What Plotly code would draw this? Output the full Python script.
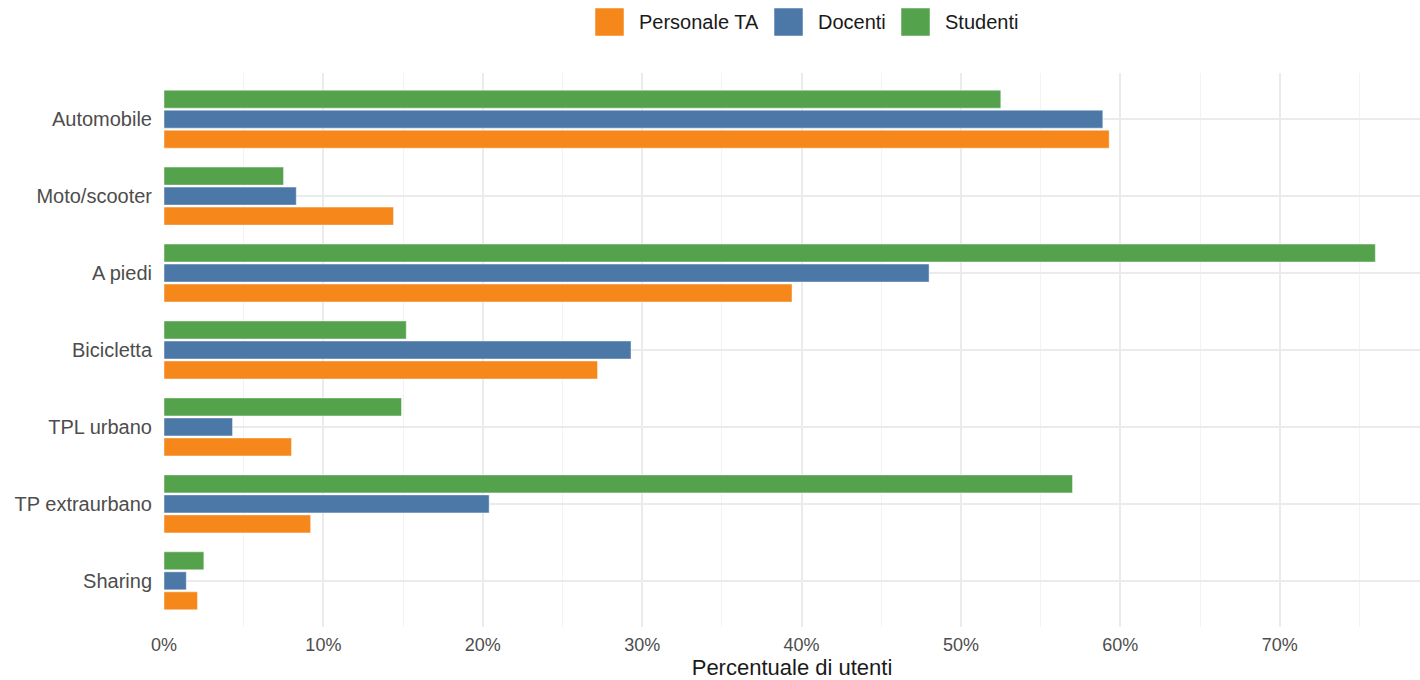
import plotly.graph_objects as go

categories = ["Automobile", "Moto/scooter", "A piedi", "Bicicletta", "TPL urbano", "TP extraurbano", "Sharing"]
series_names = ["Personale TA", "Docenti", "Studenti"]
personale_ta = [0.593, 0.144, 0.394, 0.272, 0.080, 0.092, 0.021]
docenti = [0.589, 0.083, 0.480, 0.293, 0.043, 0.204, 0.014]
studenti = [0.525, 0.075, 0.760, 0.152, 0.149, 0.570, 0.025]
x_tick_vals = [0, 0.1, 0.2, 0.3, 0.4, 0.5, 0.6, 0.7]
x_tick_text = ["0%", "10%", "20%", "30%", "40%", "50%", "60%", "70%"]

colors = ["#F5871B", "#4C78A8", "#55A24C"]
values = [personale_ta, docenti, studenti]

W, H = 1420, 680
ML, MR, MT, MB = 164, 0, 73, 53
PW, PH = W - ML - MR, H - MT - MB

def px_x(p):
    return (p - ML) / PW

def px_y(p):
    return (H - MB - p) / PH

fig = go.Figure()
for name, vals, col in zip(series_names, values, colors):
    fig.add_trace(go.Bar(
        y=categories, x=vals, name=name, orientation="h",
        marker=dict(color=col, line=dict(color="rgba(255,255,255,0.45)", width=1)),
        showlegend=False,
    ))

# manual legend (ggplot-style large keys)
legend_key_x = [595, 774, 901]
legend_text_x = [637, 816, 943]
for name, col, kx, tx in zip(series_names, colors, legend_key_x, legend_text_x):
    fig.add_shape(type="rect", xref="paper", yref="paper",
                  x0=px_x(kx), x1=px_x(kx + 29), y0=px_y(36), y1=px_y(8),
                  fillcolor=col, line=dict(color="rgba(255,255,255,0.5)", width=1))
    fig.add_annotation(xref="paper", yref="paper", x=px_x(tx), y=px_y(22),
                       xanchor="left", yanchor="middle", text=name, showarrow=False,
                       font=dict(size=20, color="#1a1a1a"))

font_family = "Liberation Sans, Arial, sans-serif"
fig.update_layout(
    width=W, height=H,
    margin=dict(l=ML, r=MR, t=MT, b=MB, autoexpand=False),
    paper_bgcolor="white", plot_bgcolor="white",
    barmode="group", bargap=0.22, bargroupgap=0.1,
    font=dict(family=font_family, size=20, color="#4d4d4d"),
    showlegend=False,
    xaxis=dict(
        range=[0, 0.788], tickvals=x_tick_vals, ticktext=x_tick_text,
        showgrid=True, gridcolor="#ebebeb", gridwidth=2, zeroline=False,
        minor=dict(dtick=0.05, tick0=0, showgrid=True, gridcolor="#f3f3f3", gridwidth=1),
        ticks="", ticklabelstandoff=5, automargin=False,
        tickfont=dict(size=18, color="#4d4d4d"),
        title=dict(text="Percentuale di utenti", font=dict(size=22, color="#1a1a1a"), standoff=11),
        showline=False,
    ),
    yaxis=dict(
        categoryorder="array", categoryarray=list(reversed(categories)),
        range=[-0.6, 6.6], showgrid=True, gridcolor="#ebebeb", gridwidth=2,
        ticks="", ticklabelstandoff=11, tickfont=dict(size=20, color="#4d4d4d"),
        zeroline=False, showline=False, automargin=False,
    ),
)

fig.write_html("out.html", config={"displayModeBar": False},
               post_script="document.body.style.margin='0';document.body.style.overflow='hidden';")
